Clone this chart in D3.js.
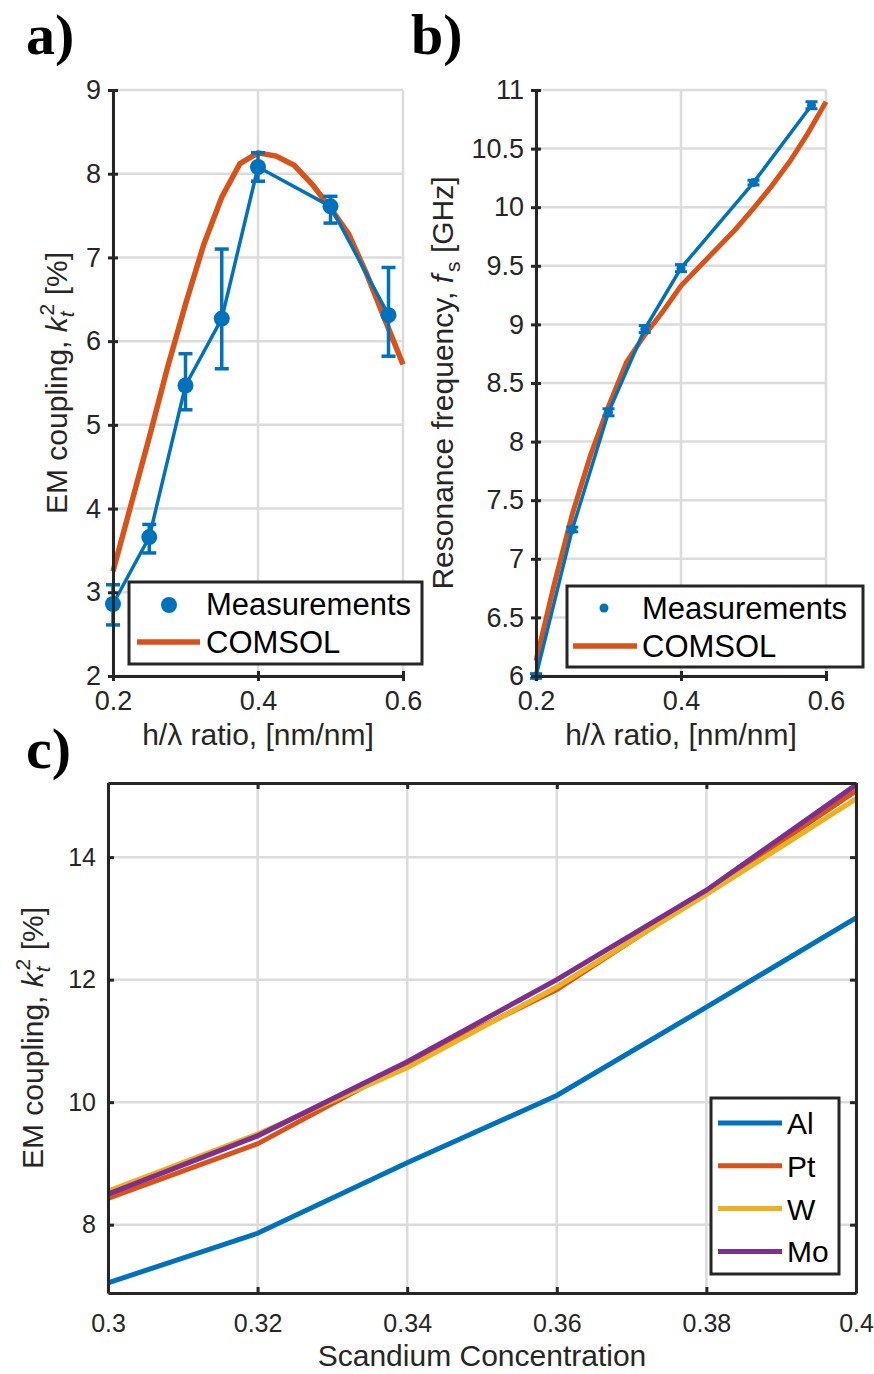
<!DOCTYPE html>
<html>
<head>
<meta charset="utf-8">
<script src="https://cdn.jsdelivr.net/npm/d3@7"></script>
<style>
  body { margin: 0; background: #fff; }
  svg text { font-family: "Liberation Sans", Arial, sans-serif; fill: #262626; }
  .tick text { font-size: 27px; }
  .axc .tick text { font-size: 25px; }
  .panel-label { font-family: "Liberation Serif", "Times New Roman", serif !important; font-weight: bold; font-size: 58px; fill: #000 !important; }
</style>
</head>
<body>
<div id="chart"></div>
<script>
// ---- data ----
const ratio = [0.2, 0.25, 0.3, 0.35, 0.4, 0.5, 0.58];
const ktMeas = [2.86, 3.66, 5.47, 6.27, 8.08, 7.61, 6.31];
const ktLow  = [2.61, 3.47, 5.18, 5.67, 7.91, 7.41, 5.82];
const ktHigh = [3.09, 3.81, 5.85, 7.10, 8.25, 7.73, 6.88];

const simRatio = [0.2, 0.225, 0.25, 0.275, 0.3, 0.325, 0.35, 0.375, 0.4, 0.425, 0.45, 0.475, 0.5, 0.525, 0.55, 0.575, 0.6];
const ktSim = [3.25, 4.05, 4.85, 5.68, 6.44, 7.15, 7.72, 8.12, 8.25, 8.21, 8.10, 7.87, 7.59, 7.28, 6.80, 6.26, 5.72];

const fsMeas = [6.0, 7.25, 8.25, 8.96, 9.48, 10.21, 10.87];
const fsErr  = [0.02, 0.02, 0.03, 0.03, 0.03, 0.02, 0.03];
const fsSim  = [6.13, 6.78, 7.38, 7.88, 8.30, 8.68, 8.91, 9.11, 9.33, 9.49, 9.65, 9.81, 9.99, 10.18, 10.39, 10.63, 10.90];

const scConc = [0.3, 0.32, 0.34, 0.36, 0.38, 0.4];
const metals = ["Al", "Pt", "W", "Mo"];
const ktAl = [7.05, 7.86, 9.01, 10.11, 11.55, 13.01];
const ktPt = [8.43, 9.32, 10.63, 11.84, 13.43, 15.08];
const ktW  = [8.55, 9.48, 10.56, 11.88, 13.39, 14.95];
const ktMo = [8.50, 9.45, 10.66, 12.00, 13.46, 15.18];

const ticksA = [2, 3, 4, 5, 6, 7, 8, 9];
const ticksB = [6, 6.5, 7, 7.5, 8, 8.5, 9, 9.5, 10, 10.5, 11];
const ticksRatio = [0.2, 0.4, 0.6];
const ticksC = [8, 10, 12, 14];

const blue = "#0072BD", orange = "#D95319", yellow = "#EDB120", purple = "#7E2F8E";
const axisCol = "#262626", gridCol = "#dcdcdc";

let svg = d3.select("#chart").append("svg")
    .attr("width", 874)
    .attr("height", 1374);

// panel letters
svg.append("text").attr("class", "panel-label").attr("x", 26).attr("y", 54).text("a)");
svg.append("text").attr("class", "panel-label").attr("x", 411).attr("y", 54).text("b)");
svg.append("text").attr("class", "panel-label").attr("x", 26).attr("y", 768).text("c)");

function grid(g, x, y, xt, yt) {
    g.selectAll(".gx").data(xt).enter().append("line")
        .attr("x1", d => x(d)).attr("x2", d => x(d))
        .attr("y1", y.range()[0]).attr("y2", y.range()[1])
        .attr("stroke", gridCol).attr("stroke-width", 2.5);
    g.selectAll(".gy").data(yt).enter().append("line")
        .attr("y1", d => y(d)).attr("y2", d => y(d))
        .attr("x1", x.range()[0]).attr("x2", x.range()[1])
        .attr("stroke", gridCol).attr("stroke-width", 2.5);
}

function styleAxis(sel, cross) {
    sel.select(".domain").attr("stroke", axisCol).attr("stroke-width", 3);
    sel.selectAll(".tick line").attr("stroke", axisCol).attr("stroke-width", 3);
    sel.selectAll(".tick text").attr("fill", axisCol);
    if (cross === "x") sel.selectAll(".tick line").attr("y1", -5).attr("y2", 5);
    if (cross === "y") sel.selectAll(".tick line").attr("x1", -5).attr("x2", 5);
}

function yLabel(g, x, y, parts) {
    let t = g.append("text")
        .attr("transform", "translate(" + x + "," + y + ") rotate(-90)")
        .attr("text-anchor", "middle")
        .style("font-size", "30px");
    parts(t);
}

function ktLabel(t) {
    t.append("tspan").text("EM coupling, ");
    t.append("tspan").style("font-style", "italic").text("k");
    t.append("tspan").style("font-style", "italic").style("font-size", "21px").attr("dy", 7).text("t");
    t.append("tspan").style("font-size", "21px").attr("dx", -4).attr("dy", -20).text("2");
    t.append("tspan").attr("dy", 13).text(" [%]");
}

// ---------------- panel a ----------------
let xa = d3.scaleLinear().domain([0.2, 0.6]).range([113, 403]);
let ya = d3.scaleLinear().domain([2, 9]).range([676, 90]);
let ga = svg.append("g");
grid(ga, xa, ya, ticksRatio, ticksA);

ga.append("path")
    .attr("d", d3.line().x((d, i) => xa(simRatio[i])).y(d => ya(d))(ktSim))
    .attr("fill", "none").attr("stroke", orange).attr("stroke-width", 5.5);

ga.append("path")
    .attr("d", d3.line().x((d, i) => xa(ratio[i])).y(d => ya(d))(ktMeas))
    .attr("fill", "none").attr("stroke", blue).attr("stroke-width", 3.5);

ratio.forEach(function (r, i) {
    let cx = xa(r);
    ga.append("line").attr("x1", cx).attr("x2", cx).attr("y1", ya(ktLow[i])).attr("y2", ya(ktHigh[i]))
        .attr("stroke", blue).attr("stroke-width", 3.5);
    [ktLow[i], ktHigh[i]].forEach(function (v) {
        ga.append("line").attr("x1", cx - 7).attr("x2", cx + 7).attr("y1", ya(v)).attr("y2", ya(v))
            .attr("stroke", blue).attr("stroke-width", 3.5);
    });
    ga.append("circle").attr("cx", cx).attr("cy", ya(ktMeas[i])).attr("r", 8).attr("fill", blue);
});

ga.append("g").attr("transform", "translate(113,0)")
    .call(d3.axisLeft(ya).tickValues(ticksA).tickSize(5).tickSizeOuter(0).tickPadding(7).tickFormat(d3.format("d")))
    .call(s => styleAxis(s, "y"));
ga.append("g").attr("transform", "translate(0,676)")
    .call(d3.axisBottom(xa).tickValues(ticksRatio).tickSize(5).tickSizeOuter(0).tickPadding(10).tickFormat(d3.format(".1f")))
    .call(s => styleAxis(s, "x"));

ga.append("text").attr("x", 258).attr("y", 745).attr("text-anchor", "middle")
    .style("font-size", "30px").text("h/\u03bb ratio, [nm/nm]");

yLabel(ga, 67, 383, ktLabel);

// legend a
let la = ga.append("g");
la.append("rect").attr("x", 129).attr("y", 582).attr("width", 293).attr("height", 82)
    .attr("fill", "#fff").attr("stroke", axisCol).attr("stroke-width", 3);
la.append("circle").attr("cx", 169).attr("cy", 605).attr("r", 8).attr("fill", blue);
la.append("text").attr("x", 206).attr("y", 615).style("font-size", "31px").style("fill", "#000").text("Measurements");
la.append("line").attr("x1", 137).attr("x2", 200).attr("y1", 642).attr("y2", 642)
    .attr("stroke", orange).attr("stroke-width", 5.5);
la.append("text").attr("x", 206).attr("y", 653).style("font-size", "31px").style("fill", "#000").text("COMSOL");

// ---------------- panel b ----------------
let xb = d3.scaleLinear().domain([0.2, 0.6]).range([536, 826]);
let yb = d3.scaleLinear().domain([6, 11]).range([676, 90]);
let gb = svg.append("g");
grid(gb, xb, yb, ticksRatio, ticksB);

gb.append("path")
    .attr("d", d3.line().x((d, i) => xb(simRatio[i])).y(d => yb(d))(fsSim))
    .attr("fill", "none").attr("stroke", orange).attr("stroke-width", 5);

gb.append("path")
    .attr("d", d3.line().x((d, i) => xb(ratio[i])).y(d => yb(d))(fsMeas))
    .attr("fill", "none").attr("stroke", blue).attr("stroke-width", 3.5);

ratio.forEach(function (r, i) {
    let cx = xb(r);
    let lo = fsMeas[i] - fsErr[i], hi = fsMeas[i] + fsErr[i];
    gb.append("line").attr("x1", cx).attr("x2", cx).attr("y1", yb(lo)).attr("y2", yb(hi))
        .attr("stroke", blue).attr("stroke-width", 3);
    [lo, hi].forEach(function (v) {
        gb.append("line").attr("x1", cx - 6).attr("x2", cx + 6).attr("y1", yb(v)).attr("y2", yb(v))
            .attr("stroke", blue).attr("stroke-width", 3);
    });
    gb.append("circle").attr("cx", cx).attr("cy", yb(fsMeas[i])).attr("r", 4.5).attr("fill", blue);
});

gb.append("g").attr("transform", "translate(536,0)")
    .call(d3.axisLeft(yb).tickValues(ticksB).tickSize(5).tickSizeOuter(0).tickPadding(7).tickFormat(d3.format("")))
    .call(s => styleAxis(s, "y"));
gb.append("g").attr("transform", "translate(0,676)")
    .call(d3.axisBottom(xb).tickValues(ticksRatio).tickSize(5).tickSizeOuter(0).tickPadding(10).tickFormat(d3.format(".1f")))
    .call(s => styleAxis(s, "x"));

gb.append("text").attr("x", 681).attr("y", 745).attr("text-anchor", "middle")
    .style("font-size", "30px").text("h/\u03bb ratio, [nm/nm]");

yLabel(gb, 453, 383, function (t) {
    t.append("tspan").text("Resonance frequency, ");
    t.append("tspan").style("font-style", "italic").text("f");
    t.append("tspan").style("font-size", "21px").attr("dx", 3).attr("dy", 7).text("s");
    t.append("tspan").attr("dy", -7).text(" [GHz]");
});

// legend b
let lb = gb.append("g");
lb.append("rect").attr("x", 567).attr("y", 586).attr("width", 296).attr("height", 81)
    .attr("fill", "#fff").attr("stroke", axisCol).attr("stroke-width", 3);
lb.append("circle").attr("cx", 604).attr("cy", 608).attr("r", 4.5).attr("fill", blue);
lb.append("text").attr("x", 642).attr("y", 619).style("font-size", "31px").style("fill", "#000").text("Measurements");
lb.append("line").attr("x1", 573).attr("x2", 637).attr("y1", 646).attr("y2", 646)
    .attr("stroke", orange).attr("stroke-width", 5.5);
lb.append("text").attr("x", 642).attr("y", 657).style("font-size", "31px").style("fill", "#000").text("COMSOL");

// ---------------- panel c ----------------
let xc = d3.scaleLinear().domain([0.3, 0.4]).range([108, 856]);
let yc = d3.scaleLinear().domain([6.885, 15.21]).range([1293, 783]);
let gc = svg.append("g").attr("class", "axc");
grid(gc, xc, yc, scConc, ticksC);

let series = [ktAl, ktPt, ktW, ktMo];
let seriesCol = [blue, orange, yellow, purple];
series.forEach(function (s, k) {
    gc.append("path")
        .attr("d", d3.line().x((d, i) => xc(scConc[i])).y(d => yc(d))(s))
        .attr("fill", "none").attr("stroke", seriesCol[k]).attr("stroke-width", 5);
});

gc.append("g").attr("transform", "translate(108,0)")
    .call(d3.axisLeft(yc).tickValues(ticksC).tickSize(-6).tickSizeOuter(0).tickPadding(12))
    .call(s => styleAxis(s));
gc.append("g").attr("transform", "translate(856,0)")
    .call(d3.axisRight(yc).tickValues(ticksC).tickSize(-6).tickSizeOuter(0).tickFormat(""))
    .call(s => styleAxis(s));
gc.append("g").attr("transform", "translate(0,1293)")
    .call(d3.axisBottom(xc).tickValues(scConc).tickSize(-6).tickSizeOuter(0).tickPadding(21).tickFormat(d3.format("")))
    .call(s => styleAxis(s));
gc.append("g").attr("transform", "translate(0,783)")
    .call(d3.axisTop(xc).tickValues(scConc).tickSize(-6).tickSizeOuter(0).tickFormat(""))
    .call(s => styleAxis(s));

gc.append("text").attr("x", 482).attr("y", 1366).attr("text-anchor", "middle")
    .style("font-size", "30px").text("Scandium Concentration");

yLabel(gc, 43, 1038, ktLabel);

// legend c
let lc = gc.append("g");
lc.append("rect").attr("x", 711).attr("y", 1098).attr("width", 128).attr("height", 176)
    .attr("fill", "#fff").attr("stroke", axisCol).attr("stroke-width", 3);
metals.forEach(function (m, k) {
    let yy = 1123 + k * 42.8;
    lc.append("line").attr("x1", 718).attr("x2", 782).attr("y1", yy).attr("y2", yy)
        .attr("stroke", seriesCol[k]).attr("stroke-width", 5);
    lc.append("text").attr("x", 787).attr("y", yy + 11).style("font-size", "30px").style("fill", "#000").text(m);
});
</script>
</body>
</html>
